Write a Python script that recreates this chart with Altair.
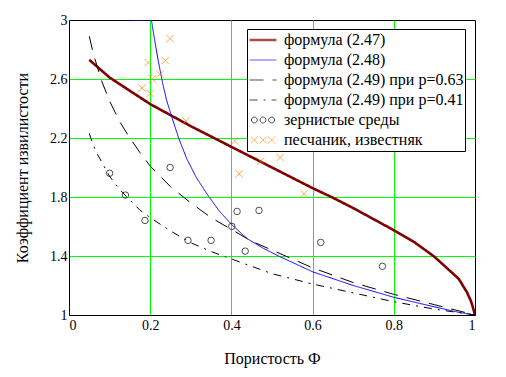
import altair as alt
import pandas as pd

# ---- series names ----
S1 = "формула (2.47)"
S2 = "формула (2.48)"
S3 = "формула (2.49) при p=0.63"
S4 = "формула (2.49) при p=0.41"
S5 = "зернистые среды"
S6 = "песчаник, известняк"
SERIES = [S1, S2, S3, S4, S5, S6]

# ---- curve values ----
phi_247 = [0.05, 0.075, 0.1, 0.15, 0.2, 0.25, 0.3, 0.35, 0.4, 0.45, 0.5, 0.55, 0.6,
           0.65, 0.7, 0.75, 0.8, 0.85, 0.9, 0.93, 0.96, 0.98, 0.99, 0.995, 1.0]
tau_247 = [2.73, 2.67, 2.61, 2.52, 2.43, 2.355, 2.28, 2.21, 2.14, 2.07, 2.0, 1.93, 1.86,
           1.795, 1.725, 1.65, 1.575, 1.495, 1.395, 1.32, 1.245, 1.155, 1.095, 1.05, 1.0]

phi_248 = [0.15, 0.203, 0.21, 0.22, 0.23, 0.24, 0.25, 0.27, 0.29, 0.314, 0.34, 0.37, 0.4,
           0.44, 0.48, 0.52, 0.6, 0.7, 0.8, 0.88, 0.96, 1.0]
tau_248 = [3.0, 3.0, 2.88, 2.72, 2.58, 2.46, 2.37, 2.2, 2.06, 1.93, 1.82, 1.705, 1.615,
           1.515, 1.45, 1.395, 1.293, 1.2, 1.12, 1.068, 1.018, 1.0]

phi_249 = [0.05, 0.06, 0.07, 0.08, 0.1, 0.125, 0.15, 0.175, 0.2, 0.25, 0.3, 0.35, 0.4,
           0.45, 0.5, 0.55, 0.6, 0.7, 0.8, 0.9, 1.0]
tau_249_063 = [2.89, 2.77, 2.68, 2.59, 2.45, 2.31, 2.20, 2.10, 2.01, 1.87, 1.76, 1.66, 1.58,
               1.50, 1.44, 1.38, 1.32, 1.22, 1.14, 1.07, 1.0]
tau_249_041 = [2.23, 2.15, 2.09, 2.04, 1.94, 1.85, 1.78, 1.71, 1.66, 1.57, 1.49, 1.43, 1.38,
               1.33, 1.28, 1.245, 1.21, 1.15, 1.09, 1.04, 1.0]

# ---- measured points ----
grain_phi = [0.100, 0.139, 0.187, 0.249, 0.293, 0.350, 0.401, 0.414, 0.434, 0.468, 0.620, 0.772]
grain_tau = [1.961, 1.813, 1.641, 2.000, 1.506, 1.506, 1.601, 1.702, 1.433, 1.709, 1.492, 1.330]

sand_phi = [0.249, 0.195, 0.237, 0.224, 0.205, 0.180, 0.200, 0.288, 0.408, 0.472, 0.520, 0.419, 0.579]
sand_tau = [2.874, 2.711, 2.725, 2.632, 2.600, 2.539, 2.502, 2.316, 2.180, 2.043, 2.068, 1.957, 1.822]

x_ticks = [0, 0.2, 0.4, 0.6, 0.8, 1]
y_ticks = [1, 1.4, 1.8, 2.2, 2.6, 3]

# ---- tables ----
rows = []
for s, xs, ys in [(S1, phi_247, tau_247), (S2, phi_248, tau_248),
                  (S3, phi_249, tau_249_063), (S4, phi_249, tau_249_041)]:
    for i, (a, b) in enumerate(zip(xs, ys)):
        rows.append({"series": s, "phi": a, "tau": b, "i": i})
lines_df = pd.DataFrame(rows)
grain_df = pd.DataFrame({"phi": grain_phi, "tau": grain_tau})
sand_df = pd.DataFrame({"phi": sand_phi, "tau": sand_tau})

FONT = "Liberation Serif, Times New Roman, serif"
GREEN = "#00ff00"

COLORS = ["#800000", "#0000ff", "#000000", "#000000", "#000000", "#ff8000"]
DASHES = [[1, 0], [1, 0], [14, 9], [8, 6, 2, 6], [1, 0], [1, 0]]
WIDTHS = [2.6, 1, 1, 1, 1, 1]

CIRCLES3 = ("M-0.42,0A0.22,0.22 0 1,1 -0.86,0A0.22,0.22 0 1,1 -0.42,0Z"
            "M0.22,0A0.22,0.22 0 1,1 -0.22,0A0.22,0.22 0 1,1 0.22,0Z"
            "M0.86,0A0.22,0.22 0 1,1 0.42,0A0.22,0.22 0 1,1 0.86,0Z")
CROSSES3 = ("M-0.89,-0.25L-0.39,0.25M-0.89,0.25L-0.39,-0.25"
            "M-0.25,-0.25L0.25,0.25M-0.25,0.25L0.25,-0.25"
            "M0.39,-0.25L0.89,0.25M0.39,0.25L0.89,-0.25")
CROSS = "M-1,-1L1,1M-1,1L1,-1"

color_scale = alt.Scale(domain=SERIES, range=COLORS)
dash_scale = alt.Scale(domain=SERIES, range=DASHES)
width_scale = alt.Scale(type="ordinal", domain=SERIES, range=WIDTHS)
shape_scale = alt.Scale(domain=SERIES, range=["stroke", "stroke", "stroke", "stroke", CIRCLES3, CROSSES3])

grid_cond_x = {"condition": {"test": "datum.value == 0 || datum.value == 1", "value": 0}, "value": 1}
grid_cond_y = {"condition": {"test": "datum.value == 1 || datum.value == 3", "value": 0}, "value": 1}

x_enc = alt.X("phi:Q", scale=alt.Scale(domain=[0, 1], nice=False),
              axis=alt.Axis(values=x_ticks, format="~g", title="Пористость Ф",
                            gridOpacity=grid_cond_x, titlePadding=18, labelPadding=3))
y_enc = alt.Y("tau:Q", scale=alt.Scale(domain=[1, 3], nice=False),
              axis=alt.Axis(values=y_ticks, format="~g", title="Коэффициент извилистости",
                            gridOpacity=grid_cond_y, titlePadding=19, labelPadding=2))

layers = []
for k in range(4):
    layers.append(
        alt.Chart(lines_df).transform_filter(alt.datum.series == SERIES[k]).mark_line(
            clip=True, color=COLORS[k], strokeDash=DASHES[k], strokeWidth=WIDTHS[k]
        ).encode(x=x_enc, y=y_enc, order="i:Q")
    )

grain = alt.Chart(grain_df).mark_point(shape="circle", filled=False, size=42,
                                        color="black", strokeWidth=1).encode(x=x_enc, y=y_enc)
sand = alt.Chart(sand_df).mark_point(shape=CROSS, filled=False, size=55,
                                      color="#ff8000", strokeWidth=1).encode(x=x_enc, y=y_enc)

leg = alt.Legend(title=None, orient="none", legendX=178, legendY=9,
                 labelExpr="datum.label + '\u00a0\u00a0'")
legend_layer = alt.Chart(alt.Data(values=[{"series": S1}])).transform_filter("false").mark_point(
    filled=False).encode(
    color=alt.Color("series:N", scale=color_scale, legend=leg),
    shape=alt.Shape("series:N", scale=shape_scale, legend=leg),
    strokeDash=alt.StrokeDash("series:N", scale=dash_scale, legend=leg),
    strokeWidth=alt.StrokeWidth("series:N", scale=width_scale, legend=leg),
)

chart = alt.layer(*layers, grain, sand, legend_layer).properties(
    width=406, height=295, autosize="none",
    padding={"left": 61, "top": 12, "right": 23, "bottom": 54},
).configure(font=FONT, background="white").configure_view(
    stroke="black", strokeWidth=1
).configure_axis(
    labelFont=FONT, labelFontSize=14, labelColor="black",
    titleFont=FONT, titleFontSize=16, titleFontWeight="normal", titleColor="black",
    domainColor="black", domainWidth=1, ticks=False,
    gridColor=GREEN, gridWidth=1,
).configure_legend(
    strokeColor="black", fillColor="white", padding=1, cornerRadius=0,
    labelFont=FONT, labelFontSize=16, labelColor="black", labelLimit=400,
    symbolSize=720, clipHeight=20, rowPadding=0, labelOffset=6,
)

chart.save("out.html", embed_options={"renderer": "svg", "actions": False})
